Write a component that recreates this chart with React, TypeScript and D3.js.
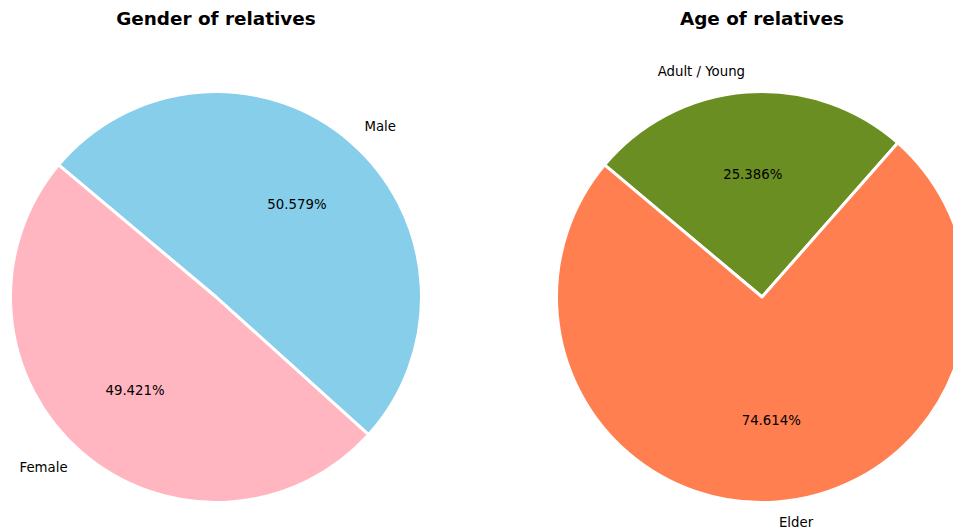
import { useRef, useEffect } from "react";
import * as d3 from "d3";

const genderLabels = ["Male", "Female"];
const genderValues = [50.579, 49.421];
const genderColors = ["#87CEEB", "#FFB6C1"];

const ageLabels = ["Adult / Young", "Elder"];
const ageValues = [25.386, 74.614];
const ageColors = ["#6B8E23", "#FF7F50"];

const titles = ["Gender of relatives", "Age of relatives"];

const WIDTH = 953;
const HEIGHT = 531;
const FONT = "'DejaVu Sans', sans-serif";

function drawPie(g, labels, values, colors, title, cx, cy, r) {
  // matplotlib style: startangle 140, clockwise
  const start = 140;
  const total = d3.sum(values);
  const deg = d3.scaleLinear().domain([0, total]).range([0, 360]);
  const toSvg = (a) => ((90 - a) * Math.PI) / 180; // math angle -> d3 arc angle

  const arc = d3.arc().innerRadius(0).outerRadius(r);
  let acc = 0;
  const slices = values.map((v, i) => {
    const a0 = start - deg(acc);
    acc += v;
    const a1 = start - deg(acc);
    return { i, v, a0, a1, mid: (a0 + a1) / 2 };
  });

  const grp = g.append("g").attr("transform", `translate(${cx},${cy})`);

  grp.selectAll("path")
    .data(slices)
    .join("path")
    .attr("d", d => arc({ startAngle: toSvg(d.a0), endAngle: toSvg(d.a1) }))
    .attr("fill", d => colors[d.i])
    .attr("stroke", "white")
    .attr("stroke-width", 3)
    .attr("stroke-linejoin", "round");

  slices.forEach(d => {
    const m = (d.mid * Math.PI) / 180;
    const lx = 1.1 * r * Math.cos(m);
    const ly = -1.1 * r * Math.sin(m);
    grp.append("text")
      .attr("x", lx)
      .attr("y", ly)
      .attr("dy", "0.35em")
      .attr("text-anchor", lx > 0 ? "start" : "end")
      .attr("font-family", FONT)
      .attr("font-size", 13.3)
      .attr("fill", "#000")
      .text(labels[d.i]);

    const px = 0.6 * r * Math.cos(m);
    const py = -0.6 * r * Math.sin(m);
    grp.append("text")
      .attr("x", px)
      .attr("y", py)
      .attr("dy", "0.35em")
      .attr("text-anchor", "middle")
      .attr("font-family", FONT)
      .attr("font-size", 13.3)
      .attr("fill", "#000")
      .text(`${(d.v / total * 100).toFixed(3)}%`);
  });

  g.append("text")
    .attr("x", cx)
    .attr("y", 24.5)
    .attr("text-anchor", "middle")
    .attr("font-family", FONT)
    .attr("font-weight", "bold")
    .attr("font-size", 18.4)
    .attr("fill", "#000")
    .text(title);
}

export default function App() {
  const svgRef = useRef(null);

  useEffect(() => {
    if (!svgRef.current) return;
    const svg = d3.select(svgRef.current);
    svg.selectAll("*").remove();

    const r = 205.5;
    drawPie(svg, genderLabels, genderValues, genderColors, titles[0], 216, 297, r);
    drawPie(svg, ageLabels, ageValues, ageColors, titles[1], 762, 297, r);
  }, []);

  return (
    <svg
      ref={svgRef}
      width={WIDTH}
      height={HEIGHT}
      style={{ position: "fixed", left: 0, top: 0, background: "white" }}
    ></svg>
  );
}
